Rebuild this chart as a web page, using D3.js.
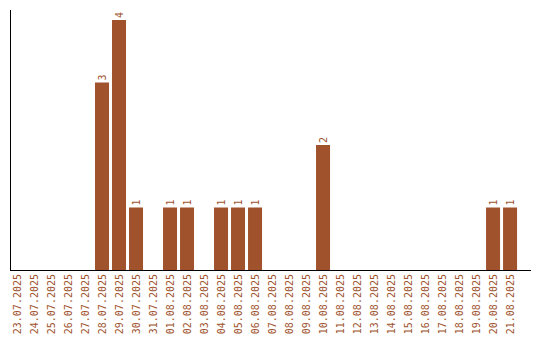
<!DOCTYPE html>
<html>
<head>
<meta charset="utf-8">
<script src="https://cdn.jsdelivr.net/npm/d3@7"></script>
<style>
	body { margin: 0; background: #fff; }
	svg { display: block; }
</style>
</head>
<body>
<div id="chart"></div>
<script>
const days = [
	"23.07.2025", "24.07.2025", "25.07.2025", "26.07.2025", "27.07.2025",
	"28.07.2025", "29.07.2025", "30.07.2025", "31.07.2025", "01.08.2025",
	"02.08.2025", "03.08.2025", "04.08.2025", "05.08.2025", "06.08.2025",
	"07.08.2025", "08.08.2025", "09.08.2025", "10.08.2025", "11.08.2025",
	"12.08.2025", "13.08.2025", "14.08.2025", "15.08.2025", "16.08.2025",
	"17.08.2025", "18.08.2025", "19.08.2025", "20.08.2025", "21.08.2025",
];
const counts = [
	0, 0, 0, 0, 0,
	3, 4, 1, 0, 1,
	1, 0, 1, 1, 1,
	0, 0, 0, 2, 0,
	0, 0, 0, 0, 0,
	0, 0, 0, 1, 1,
];

const width = 540;
const height = 340;
const margin = { top: 10, right: 9, bottom: 70, left: 10 };
const color = "#a0522d";

const data = days.map((d, i) => ({ day: d, count: counts[i] }));

const svg = d3
	.select("#chart")
	.append("svg")
	.attr("width", width)
	.attr("height", height);

const x = d3
	.scaleBand()
	.domain(days)
	.range([margin.left, width - margin.right])
	.paddingInner(0.176)
	.paddingOuter(0.41)
	.align(0);

const y = d3
	.scaleLinear()
	.domain([0, d3.max(counts)])
	.range([height - margin.bottom, margin.top + 10]);

// bars
svg
	.selectAll(".bar")
	.data(data)
	.join("rect")
	.attr("class", "bar")
	.attr("x", (d) => x(d.day))
	.attr("y", (d) => y(d.count))
	.attr("width", x.bandwidth())
	.attr("height", (d) => y(0) - y(d.count))
	.attr("fill", color);

// value labels above bars
svg
	.selectAll(".val")
	.data(data.filter((d) => d.count > 0))
	.join("text")
	.attr("class", "val")
	.attr("transform", (d) => `translate(${x(d.day) + x.bandwidth() / 2 + 3.5}, ${y(d.count) - 2}) rotate(-90)`)
	.attr("font-family", "DejaVu Sans Mono")
	.attr("font-size", 10)
	.attr("fill", color)
	.text((d) => d.count);

// x axis
const xAxis = svg
	.append("g")
	.attr("transform", `translate(0, ${height - margin.bottom})`)
	.call(d3.axisBottom(x).tickSize(0).tickPadding(0));

xAxis
	.select(".domain")
	.attr("stroke", "#000")
	.attr("stroke-width", 1)
	.attr("shape-rendering", "crispEdges")
	.attr("d", `M${margin.left},0H${width - margin.right}`);

xAxis
	.selectAll(".tick text")
	.attr("font-family", "DejaVu Sans Mono")
	.attr("font-size", 10)
	.attr("fill", color)
	.attr("text-anchor", "end")
	.attr("dy", 0)
	.attr("transform", "translate(3.5, 4) rotate(-90)")
	.attr("y", 0)
	.attr("x", 0);

// y axis line only
svg
	.append("line")
	.attr("x1", margin.left + 0.5)
	.attr("x2", margin.left + 0.5)
	.attr("y1", margin.top)
	.attr("y2", height - margin.bottom)
	.attr("stroke", "#000")
	.attr("stroke-width", 1)
	.attr("shape-rendering", "crispEdges");
</script>
</body>
</html>
